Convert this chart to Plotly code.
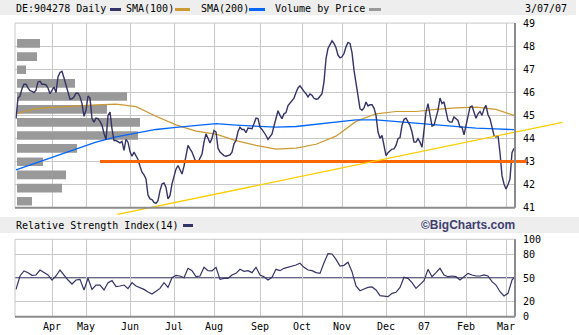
import plotly.graph_objects as go

W, H = 579, 335

# ---------------- data ----------------
month_labels = ["Apr", "May", "Jun", "Jul", "Aug", "Sep", "Oct", "Nov", "Dec", "07", "Feb", "Mar"]
month_start_day = [18, 35, 57, 79, 99, 122, 143, 163, 185, 204, 225, 245]

price_close = [
    44.86, 45.75, 45.84, 46.16, 46.35, 46.35, 46.19, 46.07, 46.04, 45.99,
    46.09, 46.45, 46.48, 46.35, 46.35, 46.32, 46.19, 45.94, 46.09, 46.23,
    45.99, 46.67, 46.86, 46.91, 46.62, 46.30, 46.09, 45.70, 45.72, 45.80,
    45.96, 45.96, 45.81, 45.51, 44.96, 45.22, 45.84, 45.75, 44.86, 44.71,
    44.88, 44.86, 44.74, 44.57, 44.22, 43.94, 45.00, 45.14, 44.42, 43.91,
    43.91, 43.84, 43.81, 43.87, 43.48, 43.96, 43.84, 43.43, 43.23, 43.41,
    43.26, 43.09, 42.80, 42.54, 42.42, 42.25, 41.55, 41.38, 41.35, 41.23,
    41.19, 41.30, 41.74, 42.03, 42.07, 41.88, 41.38, 41.52, 42.03, 42.39,
    42.67, 42.83, 42.65, 42.46, 42.80, 43.26, 43.70, 43.55, 43.41, 43.19,
    42.97, 42.97, 43.12, 43.33, 43.84, 44.20, 44.01, 43.81, 44.01, 44.35,
    44.28, 43.58, 43.41, 43.33, 43.26, 43.23, 43.26, 43.29, 43.41, 43.77,
    43.91, 44.30, 44.49, 44.39, 44.39, 44.25, 44.45, 44.45, 44.42, 44.64,
    44.88, 44.86, 44.49, 44.39, 44.28, 44.13, 43.96, 44.10, 44.20, 44.54,
    44.86, 45.20, 45.00, 44.86, 45.07, 45.12, 45.43, 45.55, 45.65, 45.75,
    45.99, 46.19, 46.28, 46.13, 46.04, 45.94, 45.80, 45.93, 45.87, 45.74,
    45.70, 45.72, 45.84, 45.94, 46.45, 47.46, 47.90, 48.07, 48.23, 48.12,
    47.93, 47.61, 47.49, 47.54, 47.68, 47.97, 48.16, 48.12, 47.72, 46.96,
    46.42, 45.87, 45.29, 45.22, 45.32, 45.58, 45.41, 45.46, 45.46, 45.32,
    45.00, 44.28, 44.01, 44.13, 43.67, 43.26, 43.38, 43.48, 43.54, 43.55,
    43.70, 43.99, 44.04, 44.57, 44.83, 44.88, 44.74, 44.57, 44.28, 43.84,
    43.84, 43.99, 43.84, 43.62, 44.35, 45.14, 45.51, 44.93, 44.54, 44.57,
    44.86, 45.22, 45.75, 45.51, 45.59, 45.14, 44.78, 44.71, 44.71, 44.93,
    44.86, 44.78, 44.49, 44.49, 44.16, 44.57, 44.93, 45.36, 45.41, 45.14,
    44.88, 45.07, 45.17, 45.00, 45.29, 45.43, 45.03, 44.86, 44.45, 44.13,
    44.06, 44.13, 43.38, 42.39, 42.03, 41.81, 41.99, 42.25, 43.38, 43.58,
]
price_days = list(range(len(price_close)))

sma_days = [0, 10, 20, 30, 40, 50, 60, 70, 80, 90, 100, 110, 120, 130, 140,
            150, 160, 170, 180, 190, 200, 210, 220, 230, 240, 249]
sma100 = [45.07, 45.29, 45.36, 45.42, 45.46, 45.49, 45.38, 44.96, 44.59, 44.32,
          44.19, 43.91, 43.70, 43.54, 43.58, 43.75, 44.10, 44.74, 45.07, 45.17,
          45.17, 45.26, 45.33, 45.36, 45.26, 45.00]
sma200 = [42.64, 42.94, 43.22, 43.55, 43.84, 44.07, 44.23, 44.39, 44.48, 44.57,
          44.64, 44.58, 44.52, 44.49, 44.52, 44.62, 44.72, 44.81, 44.81, 44.74,
          44.64, 44.57, 44.51, 44.45, 44.42, 44.38]

rsi_days = list(range(0, 250, 2)) + [249]
rsi14 = [
    35.3, 52.6, 59.1, 56.9, 53.4, 53.9, 60.3, 56.9, 53.9, 47.4,
    52.6, 60.3, 53.4, 47.4, 42.2, 47.4, 48.3, 34.5, 49.6, 35.3,
    40.9, 40.9, 34.5, 44.0, 46.6, 38.8, 39.7, 40.9, 36.2, 44.0,
    39.7, 37.9, 35.3, 31.9, 29.3, 32.8, 36.6, 44.0, 37.9, 50.4,
    53.4, 52.6, 50.4, 62.5, 59.5, 51.7, 52.6, 63.8, 59.5, 59.1,
    63.8, 48.3, 49.6, 49.6, 53.9, 56.0, 61.2, 58.6, 59.5, 56.9,
    63.8, 53.9, 51.7, 47.4, 50.9, 61.2, 59.5, 62.5, 63.8,
    65.5, 66.8, 69.0, 63.8, 60.3, 59.5, 56.9, 56.0, 69.8, 81.5,
    81.0, 74.1, 65.5, 66.4, 70.3, 58.2, 39.7, 33.6, 35.8, 37.9,
    38.4, 34.5, 27.2, 26.3, 25.9, 30.2, 31.5, 37.9, 50.9, 49.6,
    44.0, 36.6, 42.2, 46.6, 61.2, 51.7, 56.9, 62.5, 53.9, 51.7,
    52.6, 51.7, 47.4, 51.7, 56.0, 53.9, 52.6, 52.6, 53.9, 52.6,
    45.3, 40.9, 32.3, 26.7, 30.2, 47.4, 50.4,
]

vbp_price = [48.12, 47.55, 46.98, 46.39, 45.82, 45.26, 44.70, 44.13, 43.57, 42.99, 42.42, 41.85, 41.28]
vbp_volume = [230, 200, 90, 580, 1100, 900, 1230, 1210, 600, 260, 490, 450, 150]

support_days = [42, 255.4]
support_level = [43.0, 43.0]
trend_days = [50.7, 273.2]
trend_prices = [40.71, 44.70]

price_ticks = [41, 42, 43, 44, 45, 46, 47, 48, 49]
rsi_ticks = [0, 20, 50, 80, 100]

# ---------------- styling / geometry ----------------
FONT = "DejaVu Sans Mono"
NAVY = "#333366"
TAN = "#cc9933"
BLUE = "#0066ff"
GRID = "#c8c8c8"
FRAME_DARK = "#8c8c8c"
BAND = "#eeeeee"

x_dom = [15 / W, 515 / W]
y_dom = [1 - 207.7 / H, 1 - 23.1 / H]
r_dom = [1 - 316.7 / H, 1 - 239.3 / H]
x_rng = [-0.5, 249.5]
y_rng = [41, 49]

# full-figure overlay axes sharing the price scale (lines that run past the frame)
sx = (x_rng[1] - x_rng[0]) / (x_dom[1] - x_dom[0])
x3_rng = [x_rng[0] - x_dom[0] * sx, x_rng[1] + (1 - x_dom[1]) * sx]
sy = (y_rng[1] - y_rng[0]) / (y_dom[1] - y_dom[0])
y3_rng = [y_rng[0] - y_dom[0] * sy, y_rng[1] + (1 - y_dom[1]) * sy]

fig = go.Figure()

fig.add_trace(go.Bar(x=vbp_volume, y=vbp_price, orientation="h", width=0.375,
                     marker=dict(color="#999999", line=dict(width=0)),
                     xaxis="x", yaxis="y", hoverinfo="skip"))
fig.add_trace(go.Scatter(x=sma_days, y=sma100, mode="lines",
                         line=dict(color=TAN, width=1.2), xaxis="x2", yaxis="y"))
fig.add_trace(go.Scatter(x=sma_days, y=sma200, mode="lines",
                         line=dict(color=BLUE, width=1.3), xaxis="x2", yaxis="y"))
fig.add_trace(go.Scatter(x=price_days, y=price_close, mode="lines",
                         line=dict(color=NAVY, width=1.4), xaxis="x2", yaxis="y"))
fig.add_trace(go.Scatter(x=support_days, y=support_level, mode="lines",
                         line=dict(color="#ff6600", width=3), xaxis="x3", yaxis="y3"))
fig.add_trace(go.Scatter(x=trend_days, y=trend_prices, mode="lines",
                         line=dict(color="#ffcc00", width=1.3), xaxis="x3", yaxis="y3"))
fig.add_trace(go.Scatter(x=rsi_days, y=rsi14, mode="lines",
                         line=dict(color=NAVY, width=1.2), xaxis="x4", yaxis="y4"))

tickfont = dict(family=FONT, size=10, color="#000000")

fig.update_layout(
    width=W, height=H, template="none",
    margin=dict(l=0, r=0, t=0, b=0),
    paper_bgcolor="#ffffff", plot_bgcolor="rgba(0,0,0,0)",
    showlegend=False, hovermode=False,
    xaxis=dict(domain=x_dom, range=[-20, 4980], visible=False, anchor="y", automargin=False),
    yaxis=dict(domain=y_dom, range=y_rng, side="right", anchor="x",
               tickvals=price_ticks, ticktext=[str(v) for v in price_ticks],
               showgrid=True, gridcolor=GRID, gridwidth=1, zeroline=False,
               showline=False, ticks="", tickfont=tickfont, ticklabelstandoff=7,
               automargin=False),
    xaxis2=dict(domain=x_dom, range=x_rng, overlaying="x", anchor="y",
                tickvals=month_start_day, showticklabels=False,
                showgrid=True, gridcolor=GRID, gridwidth=1, zeroline=False,
                showline=False, ticks="", automargin=False),
    xaxis3=dict(domain=[0, 1], range=x3_rng, visible=False, anchor="y3", automargin=False),
    yaxis3=dict(domain=[0, 1], range=y3_rng, visible=False, anchor="x3", automargin=False),
    xaxis4=dict(domain=x_dom, range=x_rng, anchor="y4",
                tickvals=month_start_day, ticktext=month_labels,
                showgrid=True, gridcolor=GRID, gridwidth=1, zeroline=False,
                showline=False, ticks="", tickfont=tickfont, ticklabelstandoff=2,
                automargin=False),
    yaxis4=dict(domain=r_dom, range=[0, 100], side="right", anchor="x4",
                tickvals=rsi_ticks, ticktext=[str(v) for v in rsi_ticks],
                showgrid=True, gridcolor=GRID, gridwidth=1, zeroline=False,
                showline=False, ticks="", tickfont=tickfont, ticklabelstandoff=7,
                automargin=False),
)

shapes = []
# header bands
shapes.append(dict(type="rect", xref="paper", yref="paper", x0=0, x1=576 / W,
                   y0=1 - 15 / H, y1=1, fillcolor=BAND, line=dict(width=0), layer="below"))
shapes.append(dict(type="rect", xref="paper", yref="paper", x0=0, x1=1,
                   y0=1 - 233 / H, y1=1 - 217 / H, fillcolor=BAND, line=dict(width=0), layer="below"))

def frame(xr, yr):
    out = []
    out.append(dict(type="line", xref=xr, yref=yr, x0=0, x1=0, y0=0, y1=1,
                    line=dict(color=GRID, width=1), layer="above"))
    out.append(dict(type="line", xref=xr, yref=yr, x0=0, x1=1, y0=1, y1=1,
                    line=dict(color=GRID, width=1), layer="above"))
    out.append(dict(type="line", xref=xr, yref=yr, x0=0, x1=1, y0=0, y1=0,
                    line=dict(color=FRAME_DARK, width=2), layer="above"))
    out.append(dict(type="line", xref=xr, yref=yr, x0=1, x1=1, y0=0, y1=1,
                    line=dict(color=FRAME_DARK, width=2), layer="above"))
    return out

shapes += frame("x domain", "y domain")
shapes += frame("x4 domain", "y4 domain")
# RSI 50 line
shapes.append(dict(type="line", xref="x4 domain", yref="y4", x0=0, x1=1, y0=50, y1=50,
                   line=dict(color=NAVY, width=1.5), layer="below"))

# legend swatches
def swatch(x0, x1, yc, color):
    return dict(type="rect", xref="paper", yref="paper", x0=x0 / W, x1=x1 / W,
                y0=1 - (yc + 1.5) / H, y1=1 - (yc - 1.5) / H,
                fillcolor=color, line=dict(width=0))

shapes.append(swatch(110, 121, 9.5, NAVY))
shapes.append(swatch(175, 190, 9.5, TAN))
shapes.append(swatch(249, 265, 9.5, BLUE))
shapes.append(swatch(369, 381, 9.5, "#999999"))
shapes.append(swatch(183, 193, 225.5, NAVY))
fig.update_layout(shapes=shapes)

def label(text, x, y, anchor="left", font=None):
    return dict(text=text, x=x / W, y=1 - y / H, xref="paper", yref="paper",
                xanchor=anchor, yanchor="middle", showarrow=False,
                borderpad=0, borderwidth=0,
                font=font or dict(family=FONT, size=10, color="#000000"))

annotations = [
    label("DE:904278 Daily", 16, 8),
    label("SMA(100)", 126, 8),
    label("SMA(200)", 200.7, 8),
    label("Volume by Price", 275.3, 8),
    label("3/07/07", 525, 8),
    label("Relative Strength Index(14)", 16, 225.5),
    label("<b>©BigCharts.com</b>", 515, 225, anchor="right",
          font=dict(family="Liberation Sans", size=12, color="#404070")),
]
fig.update_layout(annotations=annotations)

fig.write_html("out.html")
